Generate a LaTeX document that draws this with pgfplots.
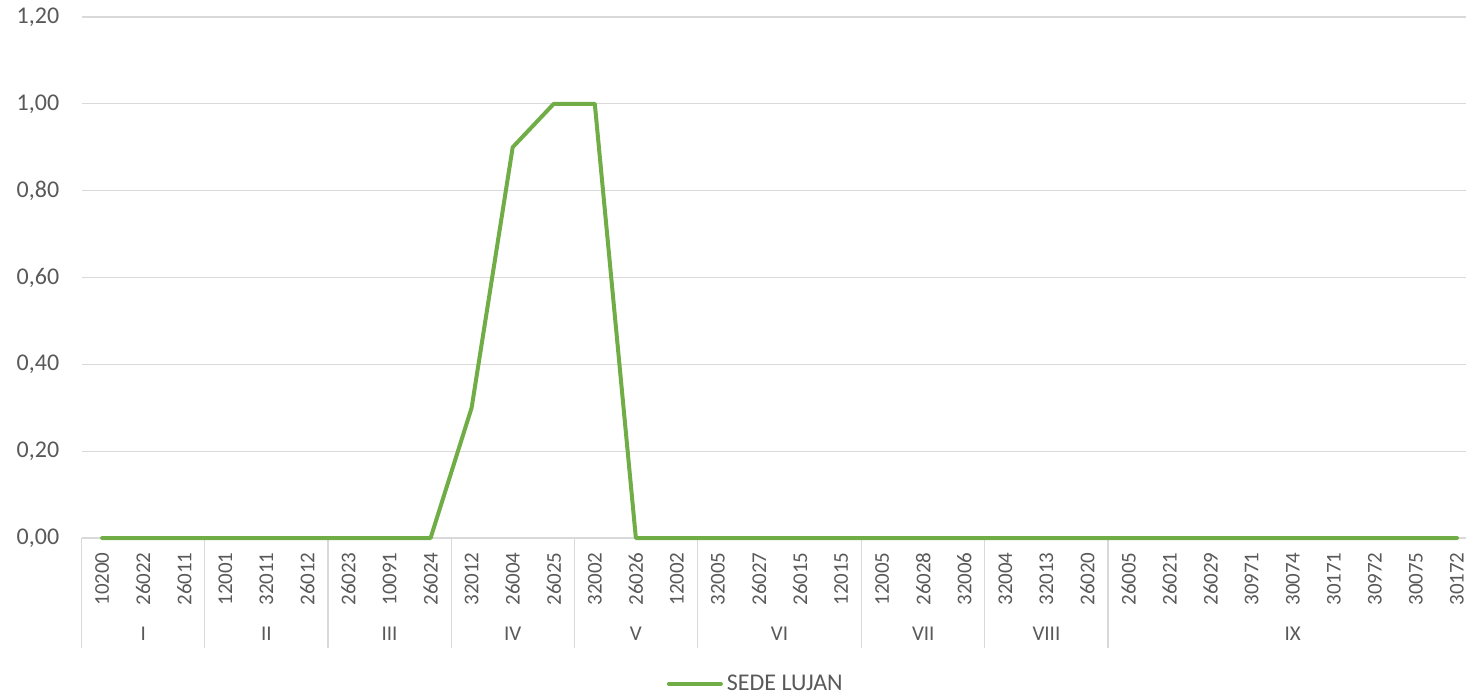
\documentclass[border=0pt]{standalone}
\usepackage{fontspec}
\setmainfont{Carlito}
\usepackage{pgfplots}
\pgfplotsset{compat=1.18}
\definecolor{txt}{HTML}{595959}
\definecolor{grd}{HTML}{D9D9D9}
\definecolor{lg}{HTML}{70AD47}
\begin{document}
\begin{tikzpicture}
\useasboundingbox (0,0) rectangle (733pt,-350pt);
\begin{axis}[
  at={(40.8pt,-269pt)}, anchor=south west,
  scale only axis, width=692.2pt, height=260.5pt,
  xmin=-0.5, xmax=33.22, ymin=0, ymax=1.2,
  axis line style={draw=none},
  ymajorgrids, grid style={grd, line width=0.6pt},
  ytick={0,0.2,0.4,0.6,0.8,1.0,1.2},
  /pgf/number format/fixed, /pgf/number format/fixed zerofill,
  /pgf/number format/precision=2, /pgf/number format/use comma,
  /pgf/number format/assume math mode=true,
  yticklabel style={font=\fontsize{12}{14}\selectfont, text=txt, inner sep=0pt, xshift=-11pt},
  major tick length=0pt,
  xtick pos=bottom, ytick pos=left,
  xtick={0,...,33},
  xticklabels={10200,26022,26011,12001,32011,26012,26023,10091,26024,32012,26004,26025,32002,26026,12002,32005,26027,26015,12015,12005,26028,32006,32004,32013,26020,26005,26021,26029,30971,30074,30171,30972,30075,30172},
  xticklabel style={yshift=-7pt, rotate=90, anchor=east, inner sep=0pt, font=\fontsize{10.5}{12}\selectfont, text=txt},
  extra x ticks={-0.5,2.5,5.5,8.5,11.5,14.5,18.5,21.5,24.5},
  extra x tick labels={},
  extra x tick style={major tick length=55pt, tick align=outside, tick style={grd, line width=0.6pt}},
  clip=false,
  legend style={draw=none, fill=none, at={(0.4877,-0.280)}, anchor=center, font=\fontsize{12}{14}\selectfont, text=txt, inner sep=0pt},
  legend image code/.code={\draw[#1, line cap=round] (0pt,0pt) -- (26pt,0pt);},
]
\addplot[lg, line width=2pt, line join=round, line cap=round] coordinates {
(0,0) (1,0) (2,0) (3,0) (4,0) (5,0) (6,0) (7,0) (8,0)
(9,0.30) (10,0.90) (11,1.00) (12,1.00) (13,0) (14,0)
(15,0) (16,0) (17,0) (18,0) (19,0) (20,0) (21,0) (22,0) (23,0) (24,0)
(25,0) (26,0) (27,0) (28,0) (29,0) (30,0) (31,0) (32,0) (33,0)};
\addlegendentry{SEDE LUJAN}
\foreach \g/\c in {I/1, II/4, III/7, IV/10, V/13, VI/16.5, VII/20, VIII/23, IX/29} {
  \edef\tmp{\noexpand\node[font=\noexpand\fontsize{10.5}{12}\noexpand\selectfont, text=txt] at (axis cs:\c,0) [yshift=-48pt] {\g};}
  \tmp
}
\end{axis}
\end{tikzpicture}
\end{document}
